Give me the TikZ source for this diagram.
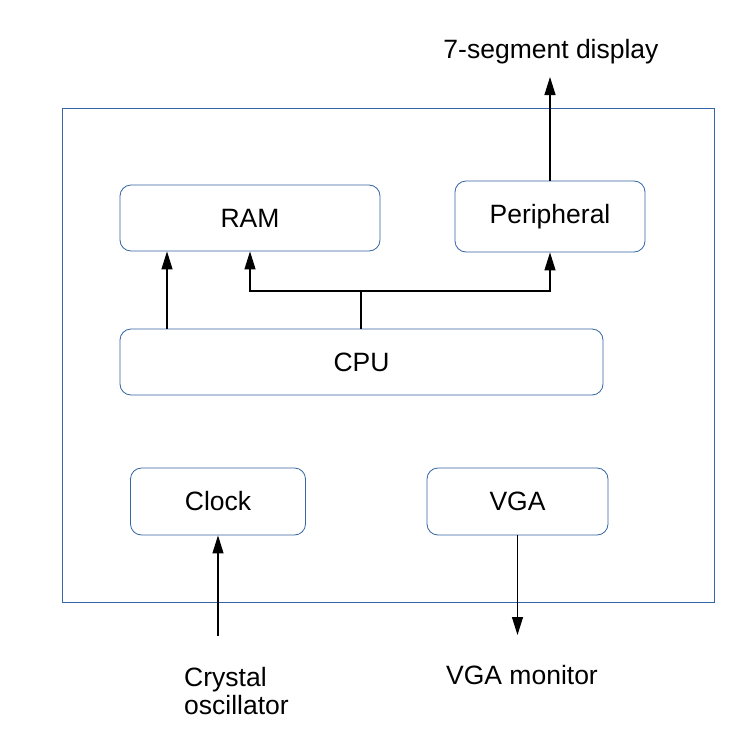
\documentclass[tikz,border=0pt]{standalone}
\usepackage{fontspec}
\setmainfont{Liberation Sans}
\usetikzlibrary{arrows.meta}
\definecolor{boxblue}{RGB}{52,101,164}
\begin{document}
\begin{tikzpicture}[x=1pt,y=-1pt,
  box/.style={draw=boxblue,line width=0.8pt,rounded corners=11pt,inner sep=0pt,font=\fontsize{26.5}{28}\selectfont},
  arr/.style={draw=black,line width=1.2pt,-{Triangle[length=18pt,width=11pt]}},
  wire/.style={draw=black,line width=1.2pt},
  lbl/.style={inner sep=0pt,font=\fontsize{26.5}{28}\selectfont}]
\useasboundingbox[fill=white] (0,0) rectangle (741,744);
\node[draw=boxblue,line width=0.8pt,minimum width=652pt,minimum height=494pt,inner sep=0pt] (outer) at (388,355) {};
\node[box,minimum width=260pt,minimum height=66pt] (ram) at (250,218) {RAM};
\node[box,minimum width=190pt,minimum height=71pt] (per) at (550,216.5) {\raisebox{-2pt}{Peripheral}};
\node[box,minimum width=483pt,minimum height=66pt] (cpu) at (361.5,362) {CPU};
\node[box,minimum width=175pt,minimum height=67pt] (clock) at (218,501.5) {Clock};
\node[box,minimum width=181pt,minimum height=67pt] (vga) at (517.5,501.5) {VGA};
\node[lbl,anchor=base] (disp) at (551,58) {7-segment display};
\node[lbl,anchor=base] (mon) at (522,684) {VGA monitor};
\node[lbl,anchor=north west,align=left] (xtal) at (184,667) {Crystal\\oscillator};
\coordinate (x1) at (167,0);
\coordinate (j) at (361,291);
\coordinate (disptip) at (550,77);
\coordinate (xtalend) at (218,636);
\coordinate (montip) at (517.5,635);
\draw[arr] (cpu.north -| x1) -- (ram.south -| x1);
\draw[wire] (cpu.north -| j) -- (j);
\draw[arr] (j) -| (ram.south);
\draw[arr] (j) -| (per.south);
\draw[arr] (per.north) -- (disptip);
\draw[arr] (xtalend) -- (clock.south);
\draw[arr] (vga.south) -- (montip);
\end{tikzpicture}
\end{document}
